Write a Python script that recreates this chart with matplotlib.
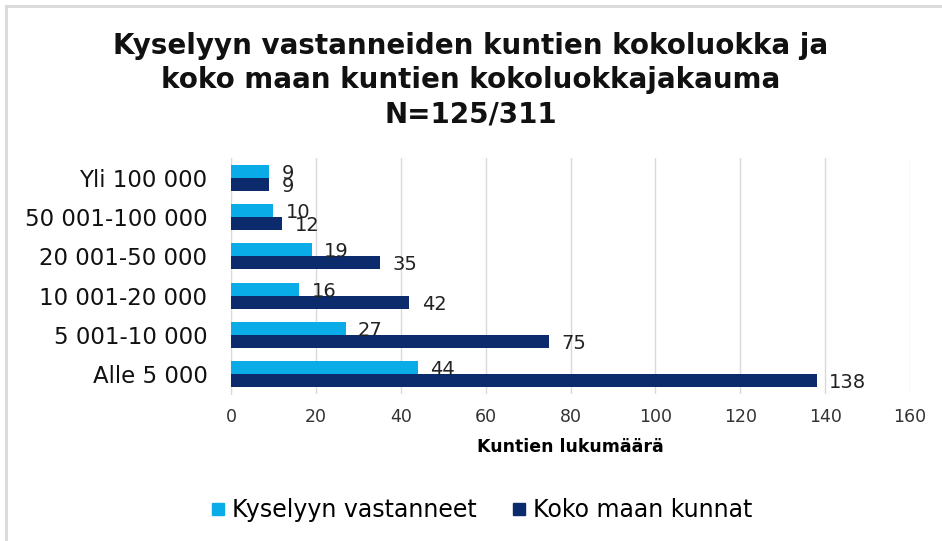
import matplotlib
matplotlib.use("Agg")
import matplotlib.pyplot as plt
from matplotlib.lines import Line2D
import numpy as np

categories = ["Alle 5 000", "5 001-10 000", "10 001-20 000", "20 001-50 000",
              "50 001-100 000", "Yli 100 000"]
vastanneet = [44, 27, 16, 19, 10, 9]
koko_maa = [138, 75, 42, 35, 12, 9]
series_names = ["Kyselyyn vastanneet", "Koko maan kunnat"]
xticks = [0, 20, 40, 60, 80, 100, 120, 140, 160]
title = "Kyselyyn vastanneiden kuntien kokoluokka ja\nkoko maan kuntien kokoluokkajakauma\nN=125/311"
xlabel = "Kuntien lukumäärä"

light = "#0AACE8"
dark = "#0B2B6C"

plt.rcParams['font.family'] = ['DejaVu Sans']
fig = plt.figure(figsize=(9.42, 5.41), dpi=100)
W, H = 942, 541
ax = fig.add_axes([231 / W, 1 - 394 / H, (910 - 231) / W, (394 - 158) / H])

y = np.arange(len(categories))
h = 0.33
ax.barh(y + h / 2, vastanneet, height=h, color=light, zorder=3)
ax.barh(y - h / 2, koko_maa, height=h, color=dark, zorder=3)

for yi, v in zip(y, vastanneet):
    ax.annotate(str(v), (v, yi + h / 2), xytext=(9, -1.5), textcoords="offset points",
                ha="left", va="center", fontsize=14, color="#222222", zorder=4)
for yi, v in zip(y, koko_maa):
    ax.annotate(str(v), (v, yi - h / 2), xytext=(9, -1.5), textcoords="offset points",
                ha="left", va="center", fontsize=14, color="#222222", zorder=4)

ax.set_xlim(0, 160)
ax.set_ylim(-0.5, len(categories) - 0.5)
ax.set_xticks(xticks)
ax.set_xticklabels([str(t) for t in xticks], fontsize=12.5, color="#333333")
ax.set_yticks(y)
ax.set_yticklabels(categories, fontsize=16.5, color="#111111")
ax.tick_params(axis="y", length=0, pad=17)
ax.tick_params(axis="x", length=0, pad=10)
ax.grid(axis="x", color="#D9D9D9", linewidth=1, zorder=0)
for s in ["top", "right", "bottom"]:
    ax.spines[s].set_visible(False)
ax.spines["left"].set_color("#D9D9D9")
ax.set_xlabel(xlabel, fontsize=12.5, fontweight="bold", labelpad=9)

fig.text(0.5, 1 - 80 / H, title, ha="center", va="center", fontsize=20,
         fontweight="bold", linespacing=1.28, color="#111111")

handles = [Line2D([0], [0], marker="s", linestyle="", markersize=8,
                  markerfacecolor=light, markeredgecolor=light),
           Line2D([0], [0], marker="s", linestyle="", markersize=8,
                  markerfacecolor=dark, markeredgecolor=dark)]
fig.legend(handles, series_names, loc="center", bbox_to_anchor=(0.5 + 9 / W, 1 - 510 / H),
           ncol=2, frameon=False, fontsize=17, handletextpad=0.15, columnspacing=1.35,
           handlelength=0.9)

# chart border (top and left)
fig.add_artist(Line2D([6 / W, 6 / W], [0, 1 - 6 / H], color="#D9D9D9", linewidth=2,
                      transform=fig.transFigure))
fig.add_artist(Line2D([6 / W, 1], [1 - 6 / H, 1 - 6 / H], color="#D9D9D9", linewidth=2,
                      transform=fig.transFigure))

fig.savefig("out.png", dpi=100)
